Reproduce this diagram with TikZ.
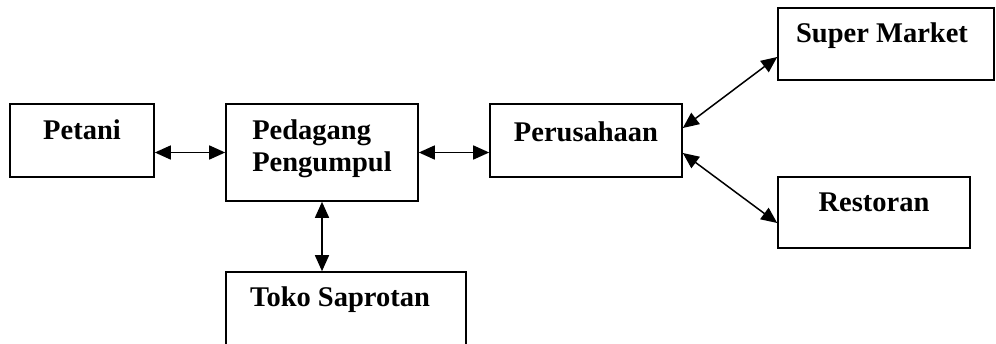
\documentclass[tikz,border=0pt]{standalone}
\usepackage{fontspec}
\setmainfont{Liberation Serif}
\usetikzlibrary{arrows.meta}
\tikzset{
  box/.style={draw,line width=1.6pt,inner sep=0pt,minimum width=192pt,minimum height=73pt},
  lbl/.style={anchor=base,inner sep=0pt,align=center,font=\fontsize{28.5}{32}\selectfont\bfseries},
  link/.style={line width=1.5pt,{Triangle[length=16pt,width=14pt]}-{Triangle[length=16pt,width=14pt]}}
}
\begin{document}
\begin{tikzpicture}[x=1pt,y=-1pt]
          \useasboundingbox (0,0) rectangle (996,343);
          \clip (0,0) rectangle (996,343);
          % boxes
          \node[box,minimum width=144pt] (petani) at (82,140.5) {};
          \node[box,minimum height=97pt] (pedagang) at (322,152.5) {};
          \node[box] (perusahaan) at (586,140.5) {};
          \node[box,minimum width=216pt,minimum height=72pt] (market) at (886,44) {};
          \node[box,minimum height=71pt] (restoran) at (874,212.5) {};
          \node[box,minimum width=240pt,minimum height=110pt] (toko) at (346,327) {};
          % labels
          \node[lbl] (petani-t) at ([yshift=-36pt]petani.north) {Petani};
          \node[lbl,align=left] (pedagang-t) at ([yshift=-68pt]pedagang.north) {Pedagang\\Pengumpul};
          \node[lbl] (perusahaan-t) at ([yshift=-38pt]perusahaan.north) {Perusahaan};
          \node[lbl] (market-t) at ([yshift=-35pt,xshift=-4pt]market.north) {Super Market};
          \node[lbl] (restoran-t) at ([yshift=-35pt]restoran.north) {Restoran};
          \node[lbl] (toko-t) at ([yshift=-35pt,xshift=-6pt]toko.north) {Toko Saprotan};
          % links
          \draw[link] (petani.east |- pedagang.center) -- (pedagang.west);
          \draw[link] (pedagang.east) -- (perusahaan.west |- pedagang.east);
          \draw[link] (pedagang.south) -- (toko.north -| pedagang.south);
          \draw[link] ([yshift=12.5pt]perusahaan.east) -- ([yshift=-13pt]market.west);
          \draw[link] ([yshift=-12.5pt]perusahaan.east) -- ([yshift=-10.5pt]restoran.west);
        \end{tikzpicture}
\end{document}
